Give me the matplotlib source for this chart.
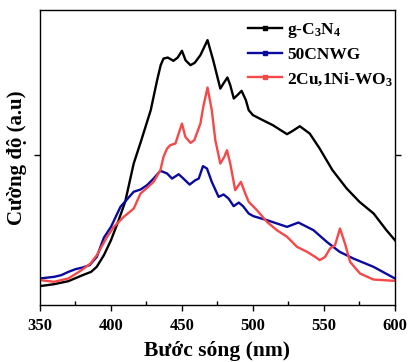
import numpy as np
import matplotlib
matplotlib.use("Agg")
from matplotlib import pyplot as plt
from matplotlib.ticker import MultipleLocator
from matplotlib.lines import Line2D

plt.rcParams['font.family'] = ['Liberation Serif', 'DejaVu Serif']
plt.rcParams['font.weight'] = 'bold'
plt.rcParams['mathtext.fontset'] = 'custom'
plt.rcParams['mathtext.rm'] = 'Liberation Serif:bold'
plt.rcParams['mathtext.bf'] = 'Liberation Serif:bold'
plt.rcParams['mathtext.default'] = 'rm'

# --- data ---
x_gcn = [350, 360, 370, 380, 386, 390, 395, 400, 405, 410, 416, 421, 428, 432.5, 435, 437, 440,
         444, 447, 450, 452.5, 456, 459, 463, 468, 472, 477, 479.5, 482, 484, 486.5, 489, 492,
         495, 497, 500, 507, 514, 524, 528, 533, 540, 547, 556, 566, 575, 585, 594, 600]
y_gcn = [0.127, 0.140, 0.160, 0.200, 0.222, 0.256, 0.333, 0.433, 0.556, 0.689, 0.944, 1.089,
         1.300, 1.500, 1.600, 1.644, 1.651, 1.629, 1.651, 1.696, 1.633, 1.600, 1.616, 1.667,
         1.767, 1.633, 1.444, 1.482, 1.518, 1.467, 1.378, 1.400, 1.429, 1.367, 1.300, 1.267,
         1.233, 1.200, 1.140, 1.162, 1.193, 1.144, 1.044, 0.900, 0.778, 0.689, 0.611, 0.500, 0.433]

x_cnwg = [350, 360, 365, 370, 375, 380, 385, 390, 395, 400, 406.7, 416, 420.8, 425.4, 430,
          434.8, 439.5, 443, 447.7, 451, 455.4, 459.4, 461.8, 464.8, 467.6, 471, 475.8, 479.3,
          482.8, 486.4, 490, 493, 497, 500.4, 509.8, 524, 532, 542.6, 552, 561, 570.7, 584.8, 600]
y_cnwg = [0.178, 0.189, 0.200, 0.222, 0.240, 0.251, 0.267, 0.322, 0.450, 0.522, 0.656, 0.756,
          0.771, 0.800, 0.844, 0.896, 0.878, 0.844, 0.873, 0.844, 0.804, 0.833, 0.844, 0.927,
          0.911, 0.822, 0.722, 0.738, 0.711, 0.660, 0.684, 0.660, 0.611, 0.593, 0.567, 0.522,
          0.551, 0.500, 0.422, 0.356, 0.311, 0.256, 0.178]

x_wo3 = [350, 360, 370, 378.6, 385.6, 390, 397.3, 402, 409, 416, 420.8, 425.4, 430, 434.8, 437,
         439.5, 441.8, 445.4, 450, 452.4, 456, 458.7, 463, 465, 468, 471, 473.5, 477, 479.8,
         481.7, 484, 487.5, 491.5, 494.6, 497, 502.8, 509.8, 516.8, 524, 531, 538, 543.8, 547,
         550.8, 554.3, 557.8, 561.3, 564.8, 568.4, 575.4, 584.8, 600]
y_wo3 = [0.167, 0.156, 0.178, 0.229, 0.278, 0.333, 0.456, 0.522, 0.589, 0.644, 0.744, 0.782,
         0.822, 0.900, 0.989, 1.044, 1.067, 1.078, 1.211, 1.122, 1.082, 1.100, 1.211, 1.322,
         1.451, 1.300, 1.100, 0.944, 0.989, 1.033, 0.944, 0.767, 0.822, 0.744, 0.689, 0.633,
         0.556, 0.500, 0.456, 0.389, 0.356, 0.322, 0.300, 0.322, 0.378, 0.400, 0.511, 0.411,
         0.289, 0.211, 0.171, 0.162]

labels = ['g-C$_3$N$_4$', '50CNWG', '2Cu,1Ni-WO$_3$']
colors = ['#000000', '#0a0aa0', '#f54848']

fig = plt.figure(figsize=(4.08, 3.62), dpi=100)
ax = fig.add_axes([0.098, 0.157, 0.870, 0.815])

handles = []
for xs, ys, lab, col in zip([x_gcn, x_cnwg, x_wo3], [y_gcn, y_cnwg, y_wo3], labels, colors):
    ax.plot(xs, ys, color=col, lw=1.7)
    handles.append(Line2D([], [], color=col, lw=1.7, marker='s', markersize=2.2, label=lab))

ax.set_xlim(350, 600)
ax.set_ylim(0, 1.967)
ax.xaxis.set_major_locator(MultipleLocator(50))
ax.xaxis.set_minor_locator(MultipleLocator(25))
ax.set_yticks([1])
ax.set_yticklabels([])
ax.tick_params(axis='x', which='major', direction='out', length=4, width=1, labelsize=12, pad=5)
ax.tick_params(axis='x', which='minor', direction='in', length=3, width=1)
ax.tick_params(axis='y', which='major', direction='out', length=4, width=1, right=True)
for s in ax.spines.values():
    s.set_linewidth(1.0)
for lab in ax.get_xticklabels():
    lab.set_fontweight('bold')

ax.set_xlabel('Bước sóng (nm)', fontsize=15.5, fontweight='bold', va='baseline')
ax.xaxis.set_label_coords(0.5, -0.172)
ax.set_ylabel('Cường độ (a.u)', fontsize=15, fontweight='bold')
ax.yaxis.set_label_coords(-0.036, 0.5)

leg = ax.legend(handles=handles, loc='upper left', bbox_to_anchor=(0.575, 0.976), frameon=False,
                handlelength=2.0, handletextpad=0.3, labelspacing=0.4, borderaxespad=0.0,
                borderpad=0.2, prop={'weight': 'bold', 'size': 12.5})

fig.savefig('out.png', dpi=100)
